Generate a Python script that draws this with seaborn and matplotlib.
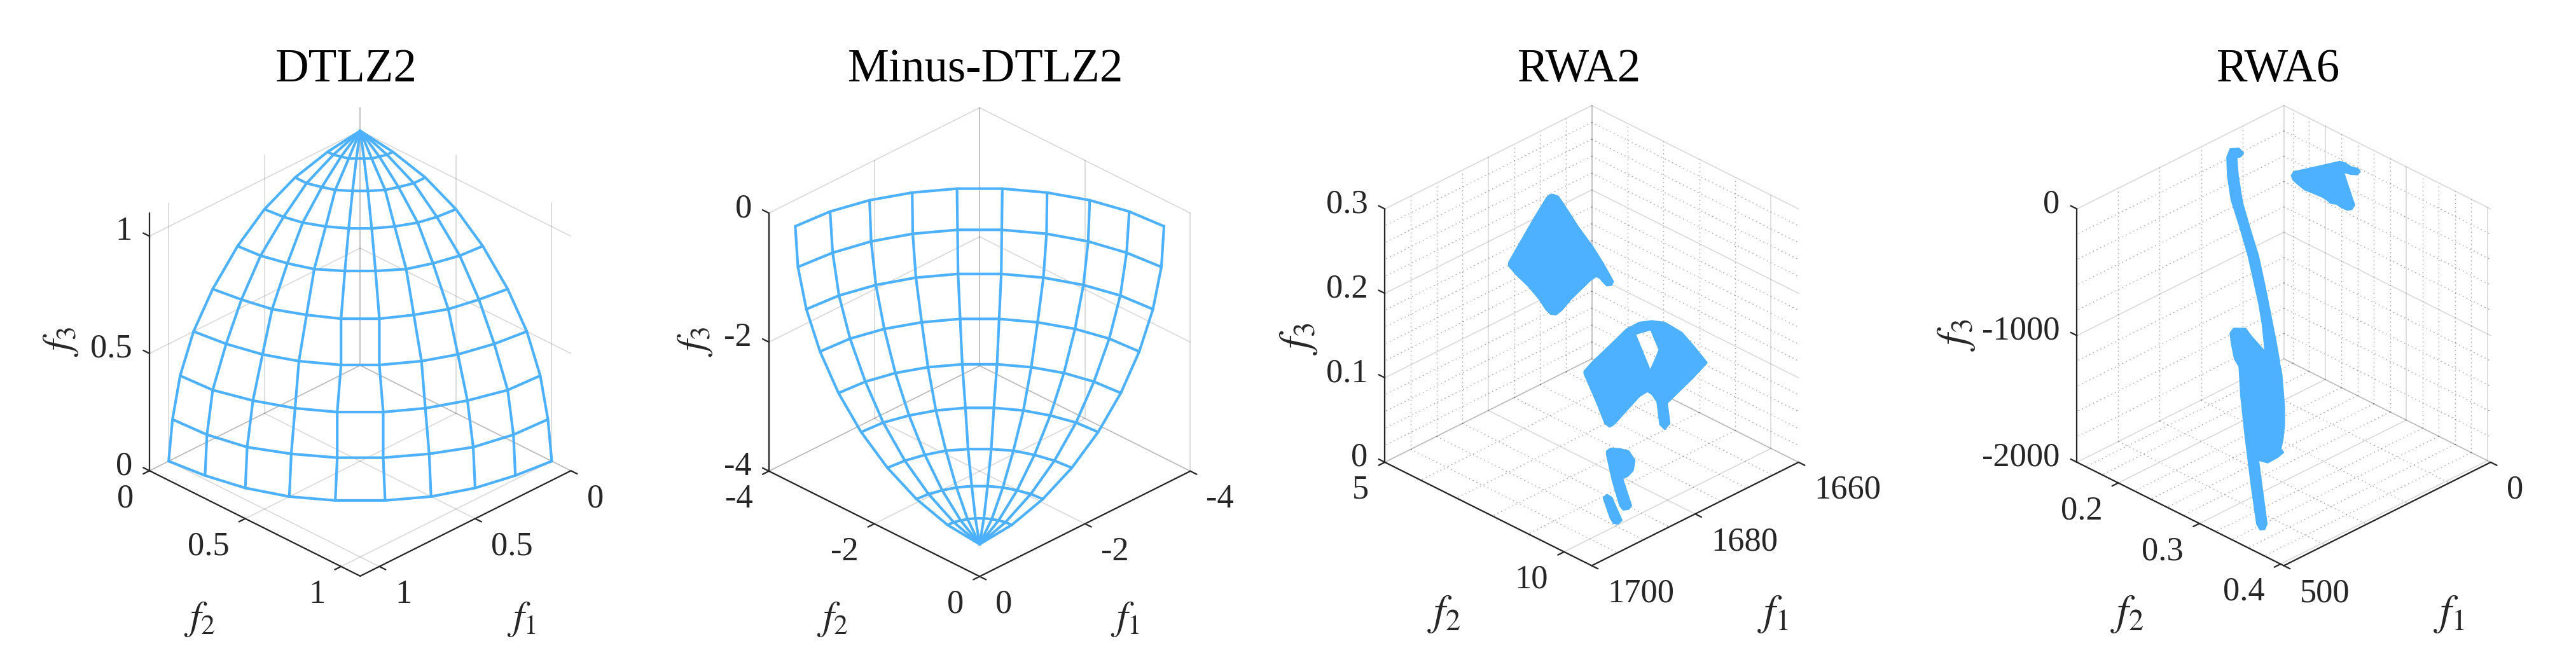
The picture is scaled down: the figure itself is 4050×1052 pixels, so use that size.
import numpy as np
import matplotlib
matplotlib.use("Agg")
import matplotlib.pyplot as plt
import seaborn as sns
from mpl_toolkits.mplot3d import proj3d
from mpl_toolkits.mplot3d.art3d import Poly3DCollection

# DTLZ2 mesh, rows go from the floor to the apex
dtlz2_f1 = np.array([
    [1.00, .98, .94, .87, .77, .64, .50, .34, .17, 0],
    [.98, .97, .93, .85, .75, .63, .49, .34, .17, 0],
    [.94, .93, .88, .81, .72, .60, .47, .32, .16, 0],
    [.87, .85, .81, .75, .66, .56, .43, .30, .15, 0],
    [.77, .75, .72, .66, .59, .49, .38, .26, .13, 0],
    [.64, .63, .60, .56, .49, .41, .32, .22, .11, 0],
    [.50, .49, .47, .43, .38, .32, .25, .17, .09, 0],
    [.34, .34, .32, .30, .26, .22, .17, .12, .06, 0],
    [.17, .17, .16, .15, .13, .11, .09, .06, .03, 0],
    [0, 0, 0, 0, 0, 0, 0, 0, 0, 0],
])
dtlz2_f3 = [0, .17, .34, .50, .64, .77, .87, .94, .98, 1.0]

# Minus-DTLZ2 mesh, rows go from the top rim to the apex
minus_f1 = np.array([
    [-3.50, -3.45, -3.29, -3.03, -2.68, -2.25, -1.75, -1.20, -.61, 0],
    [-3.45, -3.39, -3.24, -2.99, -2.64, -2.22, -1.72, -1.18, -.60, 0],
    [-3.29, -3.24, -3.09, -2.85, -2.52, -2.11, -1.64, -1.12, -.57, 0],
    [-3.03, -2.99, -2.85, -2.62, -2.32, -1.95, -1.52, -1.04, -.53, 0],
    [-2.68, -2.64, -2.52, -2.32, -2.05, -1.72, -1.34, -.92, -.47, 0],
    [-2.25, -2.22, -2.11, -1.95, -1.72, -1.45, -1.12, -.77, -.39, 0],
    [-1.75, -1.72, -1.64, -1.52, -1.34, -1.12, -.88, -.60, -.30, 0],
    [-1.20, -1.18, -1.12, -1.04, -.92, -.77, -.60, -.41, -.21, 0],
    [-.61, -.60, -.57, -.53, -.47, -.39, -.30, -.21, -.11, 0],
    [0, 0, 0, 0, 0, 0, 0, 0, 0, 0],
])
minus_f3 = [0, -.61, -1.20, -1.75, -2.25, -2.68, -3.03, -3.29, -3.45, -3.50]

# RWA2 regions, outlines as (f1, f2, f3)
rwa2_top = [
    (1677.77, 6.476, .2805), (1677.30, 6.544, .2784), (1676.80, 6.615, .2698), (1675.40, 6.817, .2430),
    (1673.96, 7.025, .2189), (1672.93, 7.173, .1988), (1672.32, 7.262, .1854), (1671.97, 7.313, .1774),
    (1672.15, 7.286, .1734), (1672.56, 7.227, .1729), (1672.93, 7.173, .1774), (1673.24, 7.129, .1820),
    (1673.59, 7.078, .1841), (1674.17, 6.995, .1793), (1676.02, 6.728, .1573), (1676.94, 6.595, .1439),
    (1677.50, 6.515, .1386), (1677.97, 6.446, .1391), (1678.43, 6.381, .1445), (1679.11, 6.283, .1573),
    (1680.13, 6.135, .1721), (1681.37, 5.957, .1868), (1682.03, 5.862, .1962), (1682.03, 5.862, .2002),
    (1681.16, 5.986, .2189), (1679.52, 6.224, .2538), (1678.39, 6.387, .2765), (1678.08, 6.431, .2800),
]
rwa2_mid_left = [
    (1678.74, 7.489, .0958), (1677.96, 7.602, .1065), (1675.90, 7.899, .1306), (1674.67, 8.077, .1454),
    (1673.85, 8.196, .1400), (1672.37, 8.409, .0958), (1672.65, 8.368, .0722), (1673.44, 8.255, .0664),
    (1675.90, 7.899, .0329), (1676.32, 7.840, .0302), (1676.73, 7.780, .0342), (1677.55, 7.661, .0596),
    (1678.74, 7.489, .0931),
]
rwa2_mid_right = [
    (1674.67, 8.077, .1454), (1673.43, 8.255, .1534), (1672.20, 8.433, .1553), (1670.97, 8.611, .1534),
    (1669.32, 8.849, .1414), (1668.08, 9.027, .1239), (1666.91, 9.196, .1060), (1668.29, 8.997, .0878),
    (1670.76, 8.641, .0583), (1670.51, 8.676, .0342), (1670.97, 8.611, .0275), (1671.42, 8.546, .0329),
    (1671.69, 8.507, .0597), (1672.20, 8.433, .0690), (1672.65, 8.368, .0722), (1672.37, 8.409, .0958),
    (1671.89, 8.478, .1092), (1671.48, 8.537, .1213), (1671.89, 8.478, .1333), (1672.30, 8.418, .1454),
    (1673.85, 8.196, .1400),
]
rwa2_low = [
    (1690.56, 9.823, .0868), (1690.21, 9.874, .0901), (1689.29, 10.007, .0895), (1688.46, 10.126, .0868),
    (1687.89, 10.209, .0761), (1688.05, 10.185, .0641), (1688.57, 10.111, .0574), (1689.08, 10.037, .0547),
    (1688.22, 10.162, .0225), (1688.46, 10.126, .0185), (1688.98, 10.052, .0177), (1689.29, 10.007, .0225),
    (1690.00, 9.903, .0520), (1690.56, 9.823, .0828),
]
rwa2_strip = [
    (1690.89, 9.776, .0319), (1690.52, 9.829, .0351), (1690.11, 9.889, .0319), (1689.14, 10.028, .0051),
    (1689.49, 9.978, .0011), (1689.90, 9.918, .0017), (1690.21, 9.874, .0078),
]

# RWA6 regions
rwa6_curve = [
    (168.8, .1649, -78.5), (164.9, .1669, -15.4), (154.6, .1721, -11.1), (149.5, .1748, -46.9),
    (152.6, .1732, -72.2), (157.7, .1706, -82.7), (155.9, .1715, -225.8), (150.8, .1741, -436.2),
    (140.5, .1794, -667.7), (131.5, .1840, -857.1), (123.8, .1879, -1088.6), (117.3, .1912, -1299.0),
    (110.9, .1944, -1509.5), (105.8, .1971, -1698.9), (123.0, .1883, -1698.9), (123.0, .1883, -1593.7),
    (125.8, .1868, -1404.3), (130.2, .1846, -1235.9), (136.6, .1813, -1046.5), (143.1, .1780, -857.1),
    (153.4, .1728, -625.6), (163.6, .1676, -415.2), (168.0, .1653, -225.8),
]
rwa6_body = [
    (489.9, .3327, -407.1), (486.1, .3347, -371.4), (471.9, .3419, -371.4), (465.5, .3452, -428.1),
    (447.5, .3543, -560.7), (430.8, .3629, -649.1), (428.2, .3642, -733.3), (425.1, .3658, -985.8),
    (425.1, .3658, -1133.1), (426.9, .3648, -1248.8), (429.5, .3635, -1322.5), (426.1, .3652, -1347.8),
    (433.3, .3616, -1385.7), (444.9, .3557, -1427.8), (456.5, .3498, -1406.7), (446.2, .3550, -1911.8),
    (448.8, .3537, -1953.9), (453.9, .3511, -1958.1), (457.8, .3491, -1911.8), (464.2, .3458, -1617.2),
    (471.9, .3419, -1217.3), (477.1, .3393, -901.7), (479.1, .3382, -670.2), (484.8, .3353, -607.0),
    (488.6, .3334, -480.8),
]
rwa6_wing = [
    (115.8, .2174, -141.3), (112.7, .2190, -112.9), (102.4, .2242, -99.6), (81.9, .2347, -69.6),
    (57.4, .2472, -33.0), (51.0, .2505, -46.3), (44.6, .2538, -74.6), (35.6, .2584, -91.3),
    (33.5, .2594, -112.9), (36.9, .2577, -132.9), (44.6, .2538, -129.6), (53.6, .2492, -112.9),
    (48.4, .2518, -216.3), (43.3, .2544, -316.3), (40.2, .2560, -374.6), (43.3, .2544, -407.9),
    (48.4, .2518, -412.9), (56.1, .2479, -391.3), (61.3, .2452, -366.3), (69.0, .2413, -357.9),
    (72.9, .2393, -332.9), (79.3, .2361, -307.9), (89.6, .2308, -279.6), (99.9, .2256, -252.9),
    (107.6, .2216, -212.9), (114.0, .2183, -174.6),
]

titles = ["DTLZ2", "Minus-DTLZ2", "RWA2", "RWA6"]

# limits, major ticks and minor grid for each panel
f1_lims = [(0, 1.1), (-4, 0), (1660, 1700), (0, 500)]
f2_lims = [(0, 1.1), (-4, 0), (5, 10.77), (.149, .404)]
f3_lims = [(0, 1.1), (-4, 0), (0, .3), (-2000, 0)]
f1_ticks = [[0, .5, 1], [-4, -2, 0], [1660, 1680, 1700], [0, 500]]
f2_ticks = [[0, .5, 1], [-4, -2, 0], [5, 10], [.2, .3, .4]]
f3_ticks = [[0, .5, 1], [-4, -2, 0], [0, .1, .2, .3], [-2000, -1000, 0]]
f1_tick_labels = [["0", "0.5", "1"], ["-4", "-2", "0"], ["1660", "1680", "1700"], ["0", "500"]]
f2_tick_labels = [["0", "0.5", "1"], ["-4", "-2", "0"], ["5", "10"], ["0.2", "0.3", "0.4"]]
f3_tick_labels = [["0", "0.5", "1"], ["-4", "-2", "0"], ["0", "0.1", "0.2", "0.3"], ["-2000", "-1000", "0"]]
f1_minor = [[], [], [1665, 1670, 1675, 1685, 1690, 1695], [100, 200, 300, 400]]
f2_minor = [[], [], [6, 7, 8, 9], [.16, .18, .22, .24, .26, .28, .32, .34, .36, .38]]
f3_minor = [[], [],
            [.02, .04, .06, .08, .12, .14, .16, .18, .22, .24, .26, .28],
            [-1800, -1600, -1400, -1200, -800, -600, -400, -200]]

# layout in pixels of the 4050x1052 picture
W, H = 4050, 1052
centers = [(566.3, 537.4), (1540.2, 538.0), (2502.5, 527.7), (3590.6, 527.7)]
sides = [787.7, 787.7, 773.4, 773.4]
title_x = [544, 1550, 2483, 3582]
f1_label_pos = [(819.5, 974), (1768.5, 974), (2787.6, 966), (3850.4, 966)]
f2_label_pos = [(313.8, 974), (1309, 974), (2269.8, 966), (3344.6, 966)]
f3_label_pos = [(95.7, 537), (1092.5, 537), (2041.5, 533), (3075.5, 527)]
label_sizes = [15, 15, 16, 16]

BLUE = "#4DB1FF"
DARK = "#262626"

sns.set_theme(style="white")
plt.rcParams["font.family"] = ["Liberation Serif", "DejaVu Serif"]
plt.rcParams["mathtext.fontset"] = "stix"


def line3d(ax, xs, ys, zs, **kws):
    # lineplot hands zs on to Axes3D.plot
    sns.lineplot(x=np.asarray(xs, dtype=float), y=np.asarray(ys, dtype=float),
                 zs=np.asarray(zs, dtype=float), sort=False, estimator=None, ax=ax, **kws)


def draw_grid(ax, xlim, ylim, zlim, xs, ys, zs, **kws):
    for t in xs:
        line3d(ax, [t, t], [ylim[0], ylim[0]], zlim, **kws)
        line3d(ax, [t, t], ylim, [zlim[0], zlim[0]], **kws)
    for t in ys:
        line3d(ax, [xlim[0], xlim[0]], [t, t], zlim, **kws)
        line3d(ax, xlim, [t, t], [zlim[0], zlim[0]], **kws)
    for t in zs:
        line3d(ax, xlim, [ylim[0], ylim[0]], [t, t], **kws)
        line3d(ax, [xlim[0], xlim[0]], ylim, [t, t], **kws)


def draw_mesh(ax, f1, f2, f3):
    f3_grid = np.tile(np.asarray(f3)[:, None], (1, f1.shape[1]))
    kws = dict(color=BLUE, linewidth=1.0, zorder=3)
    for i in range(f1.shape[0]):
        line3d(ax, f1[i], f2[i], f3_grid[i], **kws)
    for j in range(f1.shape[1]):
        line3d(ax, f1[:, j], f2[:, j], f3_grid[:, j], **kws)


def draw_region(ax, outline):
    # round joins take the corners off the outline, like the round markers of the cloud
    poly = Poly3DCollection([outline], facecolor=BLUE, edgecolor=BLUE, linewidth=.7,
                            joinstyle="round", zorder=3)
    ax.add_collection3d(poly)


def put_label(ax, x, y, z, text, dx, dy, ha):
    px, py, _ = proj3d.proj_transform(x, y, z, ax.get_proj())
    ax.annotate(text, xy=(px, py), xytext=(dx, dy), textcoords="offset pixels", ha=ha, va="center",
                fontsize=12.6, color=DARK, annotation_clip=False)


fig = plt.figure(figsize=(W / 300, H / 300), dpi=300)

for k in range(4):
    S = sides[k]
    cx, cy = centers[k]
    rect = [(cx - .5135 * S) / W, (H - cy - .5135 * S) / H, S / W, S / H]
    ax = fig.add_axes(rect, projection="3d", computed_zorder=False)
    ax.patch.set_visible(False)

    xlim, ylim, zlim = f1_lims[k], f2_lims[k], f3_lims[k]
    draw_grid(ax, xlim, ylim, zlim, f1_ticks[k], f2_ticks[k], f3_ticks[k],
              color="black", alpha=.15, linewidth=.4, zorder=1)
    draw_grid(ax, xlim, ylim, zlim, f1_minor[k], f2_minor[k], f3_minor[k],
              color="black", alpha=.33, linewidth=.35, linestyle=(0, (1.2, 3.2)), zorder=1)

    # axis lines
    axis_kws = dict(color=DARK, linewidth=.55, zorder=2)
    line3d(ax, [xlim[1], xlim[1]], [ylim[0], ylim[0]], zlim, **axis_kws)
    line3d(ax, [xlim[1], xlim[1]], ylim, [zlim[0], zlim[0]], **axis_kws)
    line3d(ax, xlim, [ylim[1], ylim[1]], [zlim[0], zlim[0]], **axis_kws)

    # tick marks run on along the floor and the wall
    xlen = .03 * (xlim[1] - xlim[0])
    ylen = .03 * (ylim[1] - ylim[0])
    for t in f1_ticks[k]:
        line3d(ax, [t, t], [ylim[1], ylim[1] + ylen], [zlim[0], zlim[0]], **axis_kws)
    for t in f2_ticks[k]:
        line3d(ax, [xlim[1], xlim[1] + xlen], [t, t], [zlim[0], zlim[0]], **axis_kws)
    for t in f3_ticks[k]:
        line3d(ax, [xlim[1], xlim[1]], [ylim[0], ylim[0] - ylen], [t, t], **axis_kws)

    if k == 0:
        draw_mesh(ax, dtlz2_f1, dtlz2_f1[:, ::-1], dtlz2_f3)
    elif k == 1:
        draw_mesh(ax, minus_f1, minus_f1[:, ::-1], minus_f3)
    elif k == 2:
        for outline in [rwa2_top, rwa2_mid_left, rwa2_mid_right, rwa2_low, rwa2_strip]:
            draw_region(ax, outline)
    else:
        for outline in [rwa6_curve, rwa6_body, rwa6_wing]:
            draw_region(ax, outline)

    ax.set_proj_type("ortho")
    ax.set_box_aspect((1, 1, 1), zoom=1)
    ax.view_init(elev=30, azim=45)
    ax.set_xlim(xlim)
    ax.set_ylim(ylim)
    ax.set_zlim(zlim)
    ax.set_axis_off()

    for t, s in zip(f1_ticks[k], f1_tick_labels[k]):
        put_label(ax, t, ylim[1], zlim[0], s, 25, -44, "left")
    for t, s in zip(f2_ticks[k], f2_tick_labels[k]):
        put_label(ax, xlim[1], t, zlim[0], s, -25, -44, "right")
    for t, s in zip(f3_ticks[k], f3_tick_labels[k]):
        put_label(ax, xlim[1], ylim[0], t, s, -27, 7, "right")

    fig.text(title_x[k] / W, 1 - 110.7 / H, titles[k], fontsize=17.5, color="black", ha="center", va="center")
    lx, ly = f1_label_pos[k]
    fig.text(lx / W, 1 - ly / H, "$f_1$", fontsize=label_sizes[k], color=DARK, ha="center", va="center")
    lx, ly = f2_label_pos[k]
    fig.text(lx / W, 1 - ly / H, "$f_2$", fontsize=label_sizes[k], color=DARK, ha="center", va="center")
    lx, ly = f3_label_pos[k]
    fig.text(lx / W, 1 - ly / H, "$f_3$", fontsize=label_sizes[k], color=DARK, ha="center", va="center", rotation=90)

fig.savefig("out.png", dpi=300, facecolor="white")
plt.close(fig)
